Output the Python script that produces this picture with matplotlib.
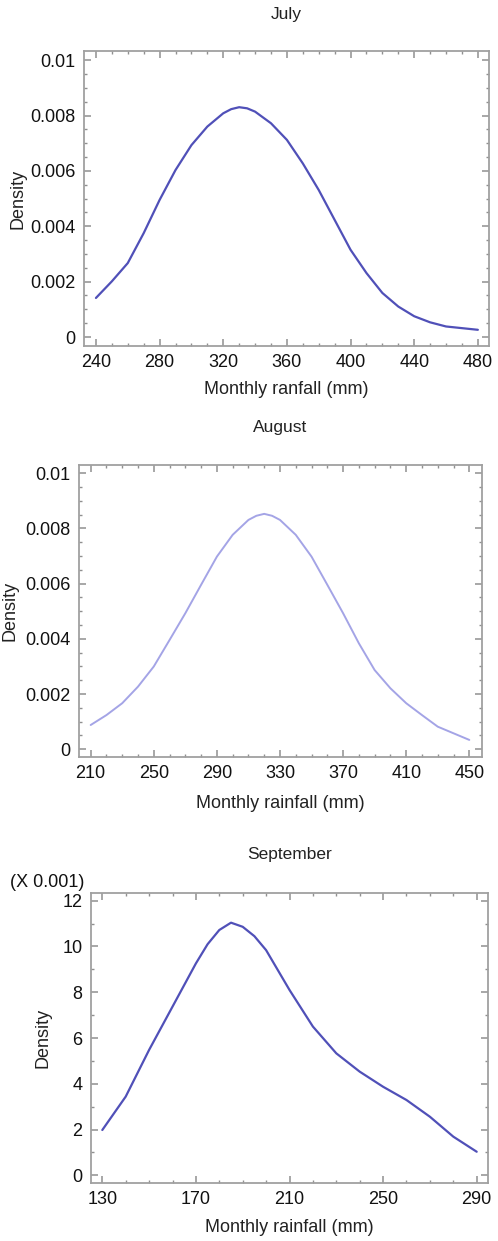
import matplotlib
matplotlib.use("Agg")
from matplotlib import pyplot as plt
from matplotlib.ticker import MultipleLocator, FormatStrFormatter, FuncFormatter

plt.rcParams["font.family"] = ["Liberation Sans", "DejaVu Sans"]

# July
july_x = [240, 250, 260, 270, 280, 290, 300, 310, 320, 325, 330, 335, 340, 350, 360,
          370, 380, 390, 400, 410, 420, 430, 440, 450, 460, 470, 480]
july_y = [0.00141, 0.00201, 0.00267, 0.00375, 0.00495, 0.00603, 0.00693, 0.0076,
          0.00808, 0.00823, 0.0083, 0.00826, 0.00814, 0.00772, 0.00712, 0.00627, 0.00531,
          0.00423, 0.00315, 0.00231, 0.00159, 0.0011, 0.00075, 0.00053, 0.00038,
          0.00032, 0.00026]
july_ticks = [240, 280, 320, 360, 400, 440, 480]

# August
aug_x = [210, 220, 230, 240, 250, 260, 270, 280, 290, 300, 310, 315, 320, 325, 330,
         340, 350, 360, 370, 380, 390, 400, 410, 420, 430, 440, 450]
aug_y = [0.00088, 0.00124, 0.00167, 0.00227, 0.003, 0.00396, 0.00493, 0.00596,
         0.00698, 0.00777, 0.00831, 0.00846, 0.00853, 0.00846, 0.00831, 0.00777,
         0.00698, 0.00596, 0.00493, 0.00384, 0.00287, 0.00221, 0.00167, 0.00124,
         0.00082, 0.00058, 0.00034]
aug_ticks = [210, 250, 290, 330, 370, 410, 450]

# September (density in units of 0.001)
sep_x = [130, 140, 150, 160, 170, 175, 180, 185, 190, 195, 200, 210, 220, 230, 240,
         250, 260, 270, 280, 290]
sep_y = [1.98, 3.44, 5.48, 7.37, 9.26, 10.1, 10.72, 11.04, 10.86, 10.45, 9.84, 8.1,
         6.5, 5.33, 4.53, 3.87, 3.29, 2.56, 1.69, 1.03]
sep_ticks = [130, 170, 210, 250, 290]

W, H = 498, 1241
fig = plt.figure(figsize=(W / 100, H / 100), dpi=100)

spine_col = "#a0a0a0"


def make_axes(left, right, top, bottom):
    return fig.add_axes([left / W, (H - bottom) / H, (right - left) / W, (bottom - top) / H])


def style(ax, title, xlabel, title_y, xlab_y, ylab_x):
    for s in ax.spines.values():
        s.set_color(spine_col)
        s.set_linewidth(1.3)
    ax.tick_params(which="both", direction="in", top=True, right=True,
                   color="#909090", labelsize=13, labelcolor="#111111")
    ax.tick_params(which="major", length=5, width=1.1, pad=6)
    ax.tick_params(which="minor", length=2.5, width=1.0)
    ax.text(0.5, title_y, title, transform=ax.transAxes, ha="center", va="center",
            fontsize=12.5, color="#222222")
    ax.set_xlabel(xlabel, fontsize=13, color="#222222")
    ax.xaxis.label.set_va("center")
    ax.xaxis.set_label_coords(0.5, xlab_y)
    ax.set_ylabel("Density", fontsize=13, color="#222222")
    ax.yaxis.label.set_va("center")
    ax.yaxis.set_label_coords(ylab_x, 0.5)


def dens_fmt(v, pos):
    if abs(v) < 1e-12:
        return "0"
    return ("%.3f" % v).rstrip("0")


line_kw = dict(solid_joinstyle="round", solid_capstyle="round")

# July
ax1 = make_axes(84, 489, 51, 346)
ax1.plot(july_x, july_y, color="#5050b8", lw=1.6, **line_kw)
ax1.set_xlim(232.5, 487)
ax1.set_ylim(-0.000325, 0.01033)
ax1.set_xticks(july_ticks)
ax1.xaxis.set_minor_locator(MultipleLocator(10))
ax1.yaxis.set_major_locator(MultipleLocator(0.002))
ax1.yaxis.set_minor_locator(MultipleLocator(0.0005))
ax1.yaxis.set_major_formatter(FuncFormatter(dens_fmt))
style(ax1, "July", "Monthly ranfall (mm)", 1.125, -0.149, -0.163)

# August
ax2 = make_axes(79, 482, 465, 757)
ax2.plot(aug_x, aug_y, color="#a4a4e6", lw=1.4, **line_kw)
ax2.set_xlim(202.6, 458.05)
ax2.set_ylim(-0.000279, 0.0103)
ax2.set_xticks(aug_ticks)
ax2.xaxis.set_minor_locator(MultipleLocator(10))
ax2.yaxis.set_major_locator(MultipleLocator(0.002))
ax2.yaxis.set_minor_locator(MultipleLocator(0.0005))
ax2.yaxis.set_major_formatter(FuncFormatter(dens_fmt))
style(ax2, "August", "Monthly rainfall (mm)", 1.127, -0.158, -0.170)

# September
ax3 = make_axes(90.7, 488.3, 892.7, 1182.7)
ax3.plot(sep_x, sep_y, color="#5050b8", lw=1.6, **line_kw)
ax3.set_xlim(125.04, 294.96)
ax3.set_ylim(-0.323, 12.35)
ax3.set_xticks(sep_ticks)
ax3.xaxis.set_minor_locator(MultipleLocator(10))
ax3.yaxis.set_major_locator(MultipleLocator(2))
ax3.yaxis.set_minor_locator(MultipleLocator(1))
ax3.yaxis.set_major_formatter(FormatStrFormatter("%d"))
style(ax3, "September", "Monthly rainfall (mm)", 1.13, -0.153, -0.12)
ax3.text(-0.203, 1.034, "(X 0.001)", transform=ax3.transAxes, ha="left", va="center",
         fontsize=13, color="#111111")

plt.savefig("out.png", dpi=100)
